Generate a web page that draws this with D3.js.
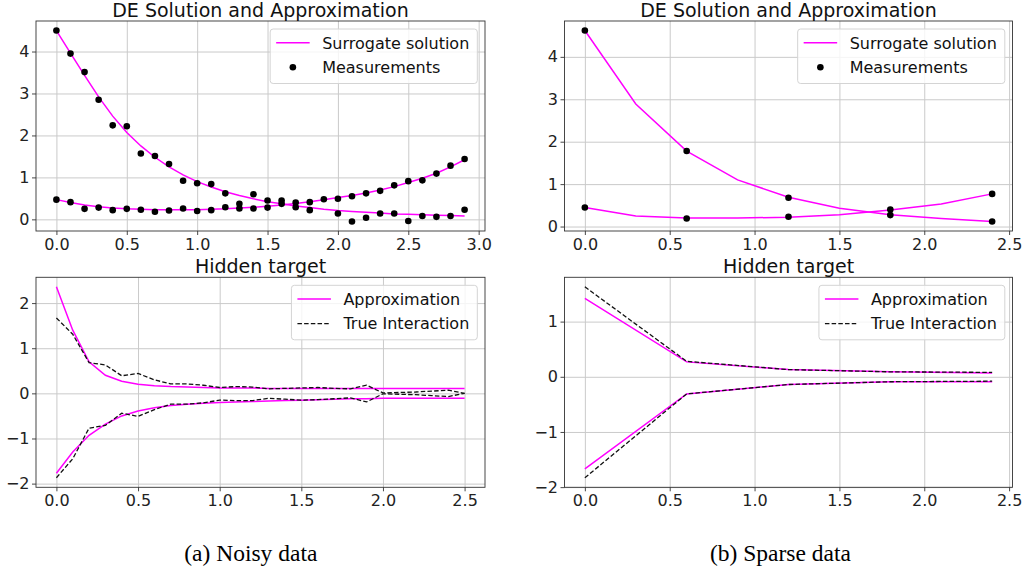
<!DOCTYPE html>
<html><head><meta charset="utf-8">
<script src="https://cdn.jsdelivr.net/npm/d3@7"></script>
<style>body{margin:0;background:#fff}svg{display:block}</style>
</head><body><svg id="c" width="1027" height="573"></svg>
<script>
// ---------- (a) Noisy data : DE solution ----------
const xNoisy = [0,0.1,0.2,0.3,0.4,0.5,0.6,0.7,0.8,0.9,1.0,1.1,1.2,1.3,1.4,1.5,1.6,1.7,1.8,1.9,2.0,2.1,2.2,2.3,2.4,2.5,2.6,2.7,2.8,2.9];
const noisySurrU = [4.50,3.96,3.43,2.92,2.46,2.07,1.75,1.48,1.25,1.06,0.90,0.77,0.66,0.57,0.49,0.42,0.37,0.32,0.28,0.24,0.21,0.19,0.17,0.15,0.13,0.12,0.11,0.10,0.09,0.08];
const noisySurrV = [0.47,0.40,0.34,0.30,0.27,0.25,0.24,0.23,0.23,0.23,0.23,0.24,0.25,0.27,0.29,0.31,0.34,0.38,0.42,0.47,0.52,0.57,0.63,0.70,0.78,0.88,0.98,1.10,1.25,1.42];
const noisyMeasU = [4.50,3.95,3.51,2.85,2.24,2.22,1.57,1.51,1.32,0.92,0.86,0.84,0.62,0.37,0.60,0.45,0.37,0.29,0.22,null,0.14,-0.05,0.04,0.14,0.14,-0.04,0.08,0.06,0.08,0.23];
const noisyMeasV = [0.47,0.41,0.25,0.28,0.22,0.25,0.23,0.18,0.21,0.26,0.20,0.22,0.29,0.26,0.26,0.28,0.45,0.40,0.41,0.48,0.49,0.55,0.62,0.68,0.81,0.91,0.93,1.09,1.28,1.44];

// ---------- (a) Noisy data : hidden target ----------
const xNoisyHidden = [0,0.1,0.2,0.3,0.4,0.5,0.6,0.7,0.8,0.9,1.0,1.1,1.2,1.3,1.4,1.5,1.6,1.7,1.8,1.9,2.0,2.1,2.2,2.3,2.4,2.5];
const noisyApproxUp = [2.36,1.40,0.70,0.40,0.27,0.20,0.17,0.15,0.14,0.13,0.12,0.12,0.12,0.11,0.11,0.11,0.11,0.11,0.11,0.11,0.11,0.11,0.11,0.11,0.11,0.11];
const noisyApproxLo = [-1.77,-1.30,-0.93,-0.68,-0.50,-0.39,-0.32,-0.27,-0.24,-0.22,-0.20,-0.19,-0.18,-0.17,-0.16,-0.15,-0.14,-0.13,-0.12,-0.12,-0.11,-0.11,-0.11,-0.11,-0.11,-0.11];
const noisyTrueUp = [1.67,1.31,0.68,0.63,0.39,0.44,0.30,0.21,0.21,0.18,0.13,0.15,0.14,0.10,0.11,0.12,0.13,0.11,0.10,0.18,0.01,0.02,0.03,0.05,0.07,0.00];
const noisyTrueLo = [-1.87,-1.45,-0.77,-0.71,-0.44,-0.51,-0.36,-0.24,-0.24,-0.21,-0.15,-0.16,-0.16,-0.11,-0.13,-0.15,-0.14,-0.12,-0.10,-0.19,-0.01,-0.02,-0.03,-0.05,-0.07,0.00];

// ---------- (b) Sparse data : DE solution ----------
const xSparseMeas = [0,0.6,1.2,1.8,2.4];
const sparseMeasU = [4.62,1.78,0.68,0.27,0.12];
const sparseMeasV = [0.45,0.19,0.23,0.40,0.77];
const xSparseSurr = [0,0.3,0.6,0.9,1.2,1.5,1.8,2.1,2.4];
const sparseSurrU = [4.62,2.89,1.78,1.10,0.69,0.43,0.28,0.19,0.12];
const sparseSurrV = [0.45,0.25,0.20,0.20,0.22,0.28,0.39,0.53,0.77];

// ---------- (b) Sparse data : hidden target ----------
const xSparseHidden = [0,0.6,1.2,1.8,2.4];
const sparseApproxUp = [1.42,0.27,0.13,0.09,0.07];
const sparseApproxLo = [-1.67,-0.31,-0.14,-0.09,-0.09];
const sparseTrueUp = [1.63,0.28,0.13,0.09,0.08];
const sparseTrueLo = [-1.83,-0.31,-0.14,-0.09,-0.08];

// ---------- ticks / labels ----------
const xTicksNoisyTop = [0,0.5,1.0,1.5,2.0,2.5,3.0];
const xTicksOther = [0,0.5,1.0,1.5,2.0,2.5];
const yTicksTop = [0,1,2,3,4];
const yTicksNoisyHidden = [-2,-1,0,1,2];
const yTicksSparseHidden = [-2,-1,0,1];
const titles = ["DE Solution and Approximation","Hidden target"];
const legendTop = ["Surrogate solution","Measurements"];
const legendBottom = ["Approximation","True Interaction"];
const captions = ["(a) Noisy data","(b) Sparse data"];

const MAG = "#ff00ff";
const FONT = "DejaVu Sans, sans-serif";
const svg = d3.select("#c");

function padExtent(arrs){
  const all = arrs.flat().filter(v => v !== null);
  const [mn, mx] = d3.extent(all);
  const p = (mx - mn) * 0.05;
  return [mn - p, mx + p];
}

function panel(o){
  const g = svg.append("g");
  const x = d3.scaleLinear().domain(padExtent(o.xs)).range([o.left, o.right]);
  const y = d3.scaleLinear().domain(padExtent(o.ys)).range([o.bottom, o.top]);
  const h = o.bottom - o.top, w = o.right - o.left;

  // grid
  const gx = g.append("g").attr("transform",`translate(0,${o.bottom})`)
    .call(d3.axisBottom(x).tickValues(o.xTicks).tickSize(-h).tickFormat(""));
  const gy = g.append("g").attr("transform",`translate(${o.left},0)`)
    .call(d3.axisLeft(y).tickValues(o.yTicks).tickSize(-w).tickFormat(""));
  [gx, gy].forEach(a => {
    a.select(".domain").remove();
    a.selectAll("line").attr("stroke","#cacaca").attr("stroke-width",1);
  });

  // data
  const clip = "clip" + Math.round(o.left) + "_" + Math.round(o.top);
  svg.append("clipPath").attr("id", clip).append("rect")
    .attr("x", o.left).attr("y", o.top).attr("width", w).attr("height", h);
  const dg = g.append("g").attr("clip-path", `url(#${clip})`);
  o.series.forEach(s => {
    const pts = s.x.map((xv,i) => [xv, s.y[i]]).filter(p => p[1] !== null);
    if (s.type === "dot") {
      dg.selectAll(null).data(pts).join("circle")
        .attr("cx", d => x(d[0])).attr("cy", d => y(d[1])).attr("r", 3.3).attr("fill","#000");
    } else {
      const line = d3.line().x(d => x(d[0])).y(d => y(d[1]));
      dg.append("path").attr("d", line(pts)).attr("fill","none")
        .attr("stroke", s.type === "dash" ? "#111" : MAG)
        .attr("stroke-width", s.type === "dash" ? 1.3 : 1.5)
        .attr("stroke-dasharray", s.type === "dash" ? "4.5,2.2" : null);
    }
  });

  // axes with ticks
  const ax = g.append("g").attr("transform",`translate(0,${o.bottom})`)
    .call(d3.axisBottom(x).tickValues(o.xTicks).tickFormat(d3.format(".1f")).tickSize(4).tickPadding(3.5).tickSizeOuter(0));
  const ay = g.append("g").attr("transform",`translate(${o.left},0)`)
    .call(d3.axisLeft(y).tickValues(o.yTicks).tickFormat(d3.format("d")).tickSize(4).tickPadding(2.5).tickSizeOuter(0));
  [ax, ay].forEach(a => {
    a.select(".domain").remove();
    a.selectAll("line").attr("stroke","#333").attr("stroke-width",0.9);
    a.selectAll("text").attr("fill","#222").style("font-family",FONT).style("font-size","16px");
  });
  // frame
  g.append("rect").attr("x",o.left).attr("y",o.top).attr("width",w).attr("height",h)
    .attr("fill","none").attr("stroke","#333").attr("stroke-width",0.9);

  // title
  g.append("text").attr("x",(o.left+o.right)/2).attr("y",o.top-4).attr("text-anchor","middle")
    .style("font-family",FONT).style("font-size","19px").attr("fill","#111").text(o.title);

  // legend
  const lg = g.append("g");
  const box = lg.append("rect").attr("rx",3).attr("fill","#fff").attr("fill-opacity",0.8)
    .attr("stroke","#d4d4d4").attr("stroke-width",1);
  let maxW = 0;
  const texts = o.legend.map((it,i) => {
    const t = lg.append("text").attr("y", 13.8 + i*24.5 + 5.8).style("font-family",FONT)
      .style("font-size","16px").attr("fill","#111").text(it.label);
    maxW = Math.max(maxW, t.node().getComputedTextLength());
    return t;
  });
  const bw = 52 + maxW + 8, bh = 54.5;
  const bx = o.right - 7.7 - bw, by = o.top + 8;
  lg.attr("transform",`translate(${bx},${by})`);
  box.attr("width",bw).attr("height",bh);
  texts.forEach(t => t.attr("x",52));
  o.legend.forEach((it,i) => {
    const cy = 13.8 + i*24.5;
    if (it.type === "dot") {
      lg.append("circle").attr("cx",22.7).attr("cy",cy).attr("r",3.3).attr("fill","#000");
    } else {
      lg.append("line").attr("x1",6).attr("x2",39.5).attr("y1",cy).attr("y2",cy)
        .attr("stroke", it.type === "dash" ? "#111" : MAG)
        .attr("stroke-width", it.type === "dash" ? 1.3 : 1.5)
        .attr("stroke-dasharray", it.type === "dash" ? "4.5,2.2" : null);
    }
  });
}

panel({left:36,right:485,top:21,bottom:231,title:titles[0],
  xs:[xNoisy], ys:[noisySurrU,noisySurrV,noisyMeasU,noisyMeasV],
  xTicks:xTicksNoisyTop, yTicks:yTicksTop,
  series:[{x:xNoisy,y:noisySurrU,type:"line"},{x:xNoisy,y:noisySurrV,type:"line"},
          {x:xNoisy,y:noisyMeasU,type:"dot"},{x:xNoisy,y:noisyMeasV,type:"dot"}],
  legend:[{label:legendTop[0],type:"line"},{label:legendTop[1],type:"dot"}]});

panel({left:564.5,right:1012.5,top:21,bottom:231,title:titles[0],
  xs:[xSparseSurr,xSparseMeas], ys:[sparseSurrU,sparseSurrV,sparseMeasU,sparseMeasV],
  xTicks:xTicksOther, yTicks:yTicksTop,
  series:[{x:xSparseSurr,y:sparseSurrU,type:"line"},{x:xSparseSurr,y:sparseSurrV,type:"line"},
          {x:xSparseMeas,y:sparseMeasU,type:"dot"},{x:xSparseMeas,y:sparseMeasV,type:"dot"}],
  legend:[{label:legendTop[0],type:"line"},{label:legendTop[1],type:"dot"}]});

panel({left:36,right:485,top:277.3,bottom:487.3,title:titles[1],
  xs:[xNoisyHidden], ys:[noisyApproxUp,noisyApproxLo,noisyTrueUp,noisyTrueLo],
  xTicks:xTicksOther, yTicks:yTicksNoisyHidden,
  series:[{x:xNoisyHidden,y:noisyApproxUp,type:"line"},{x:xNoisyHidden,y:noisyApproxLo,type:"line"},
          {x:xNoisyHidden,y:noisyTrueUp,type:"dash"},{x:xNoisyHidden,y:noisyTrueLo,type:"dash"}],
  legend:[{label:legendBottom[0],type:"line"},{label:legendBottom[1],type:"dash"}]});

panel({left:564.5,right:1012.5,top:277.3,bottom:487.3,title:titles[1],
  xs:[xSparseHidden], ys:[sparseApproxUp,sparseApproxLo,sparseTrueUp,sparseTrueLo],
  xTicks:xTicksOther, yTicks:yTicksSparseHidden,
  series:[{x:xSparseHidden,y:sparseApproxUp,type:"line"},{x:xSparseHidden,y:sparseApproxLo,type:"line"},
          {x:xSparseHidden,y:sparseTrueUp,type:"dash"},{x:xSparseHidden,y:sparseTrueLo,type:"dash"}],
  legend:[{label:legendBottom[0],type:"line"},{label:legendBottom[1],type:"dash"}]});

// captions
svg.append("text").attr("x",250.8).attr("y",561).attr("text-anchor","middle")
  .style("font-family","Liberation Serif, Times New Roman, serif").style("font-size","23.5px").attr("fill","#000").text(captions[0]);
svg.append("text").attr("x",780.5).attr("y",561).attr("text-anchor","middle")
  .style("font-family","Liberation Serif, Times New Roman, serif").style("font-size","23.5px").attr("fill","#000").text(captions[1]);
</script>
</body></html>
